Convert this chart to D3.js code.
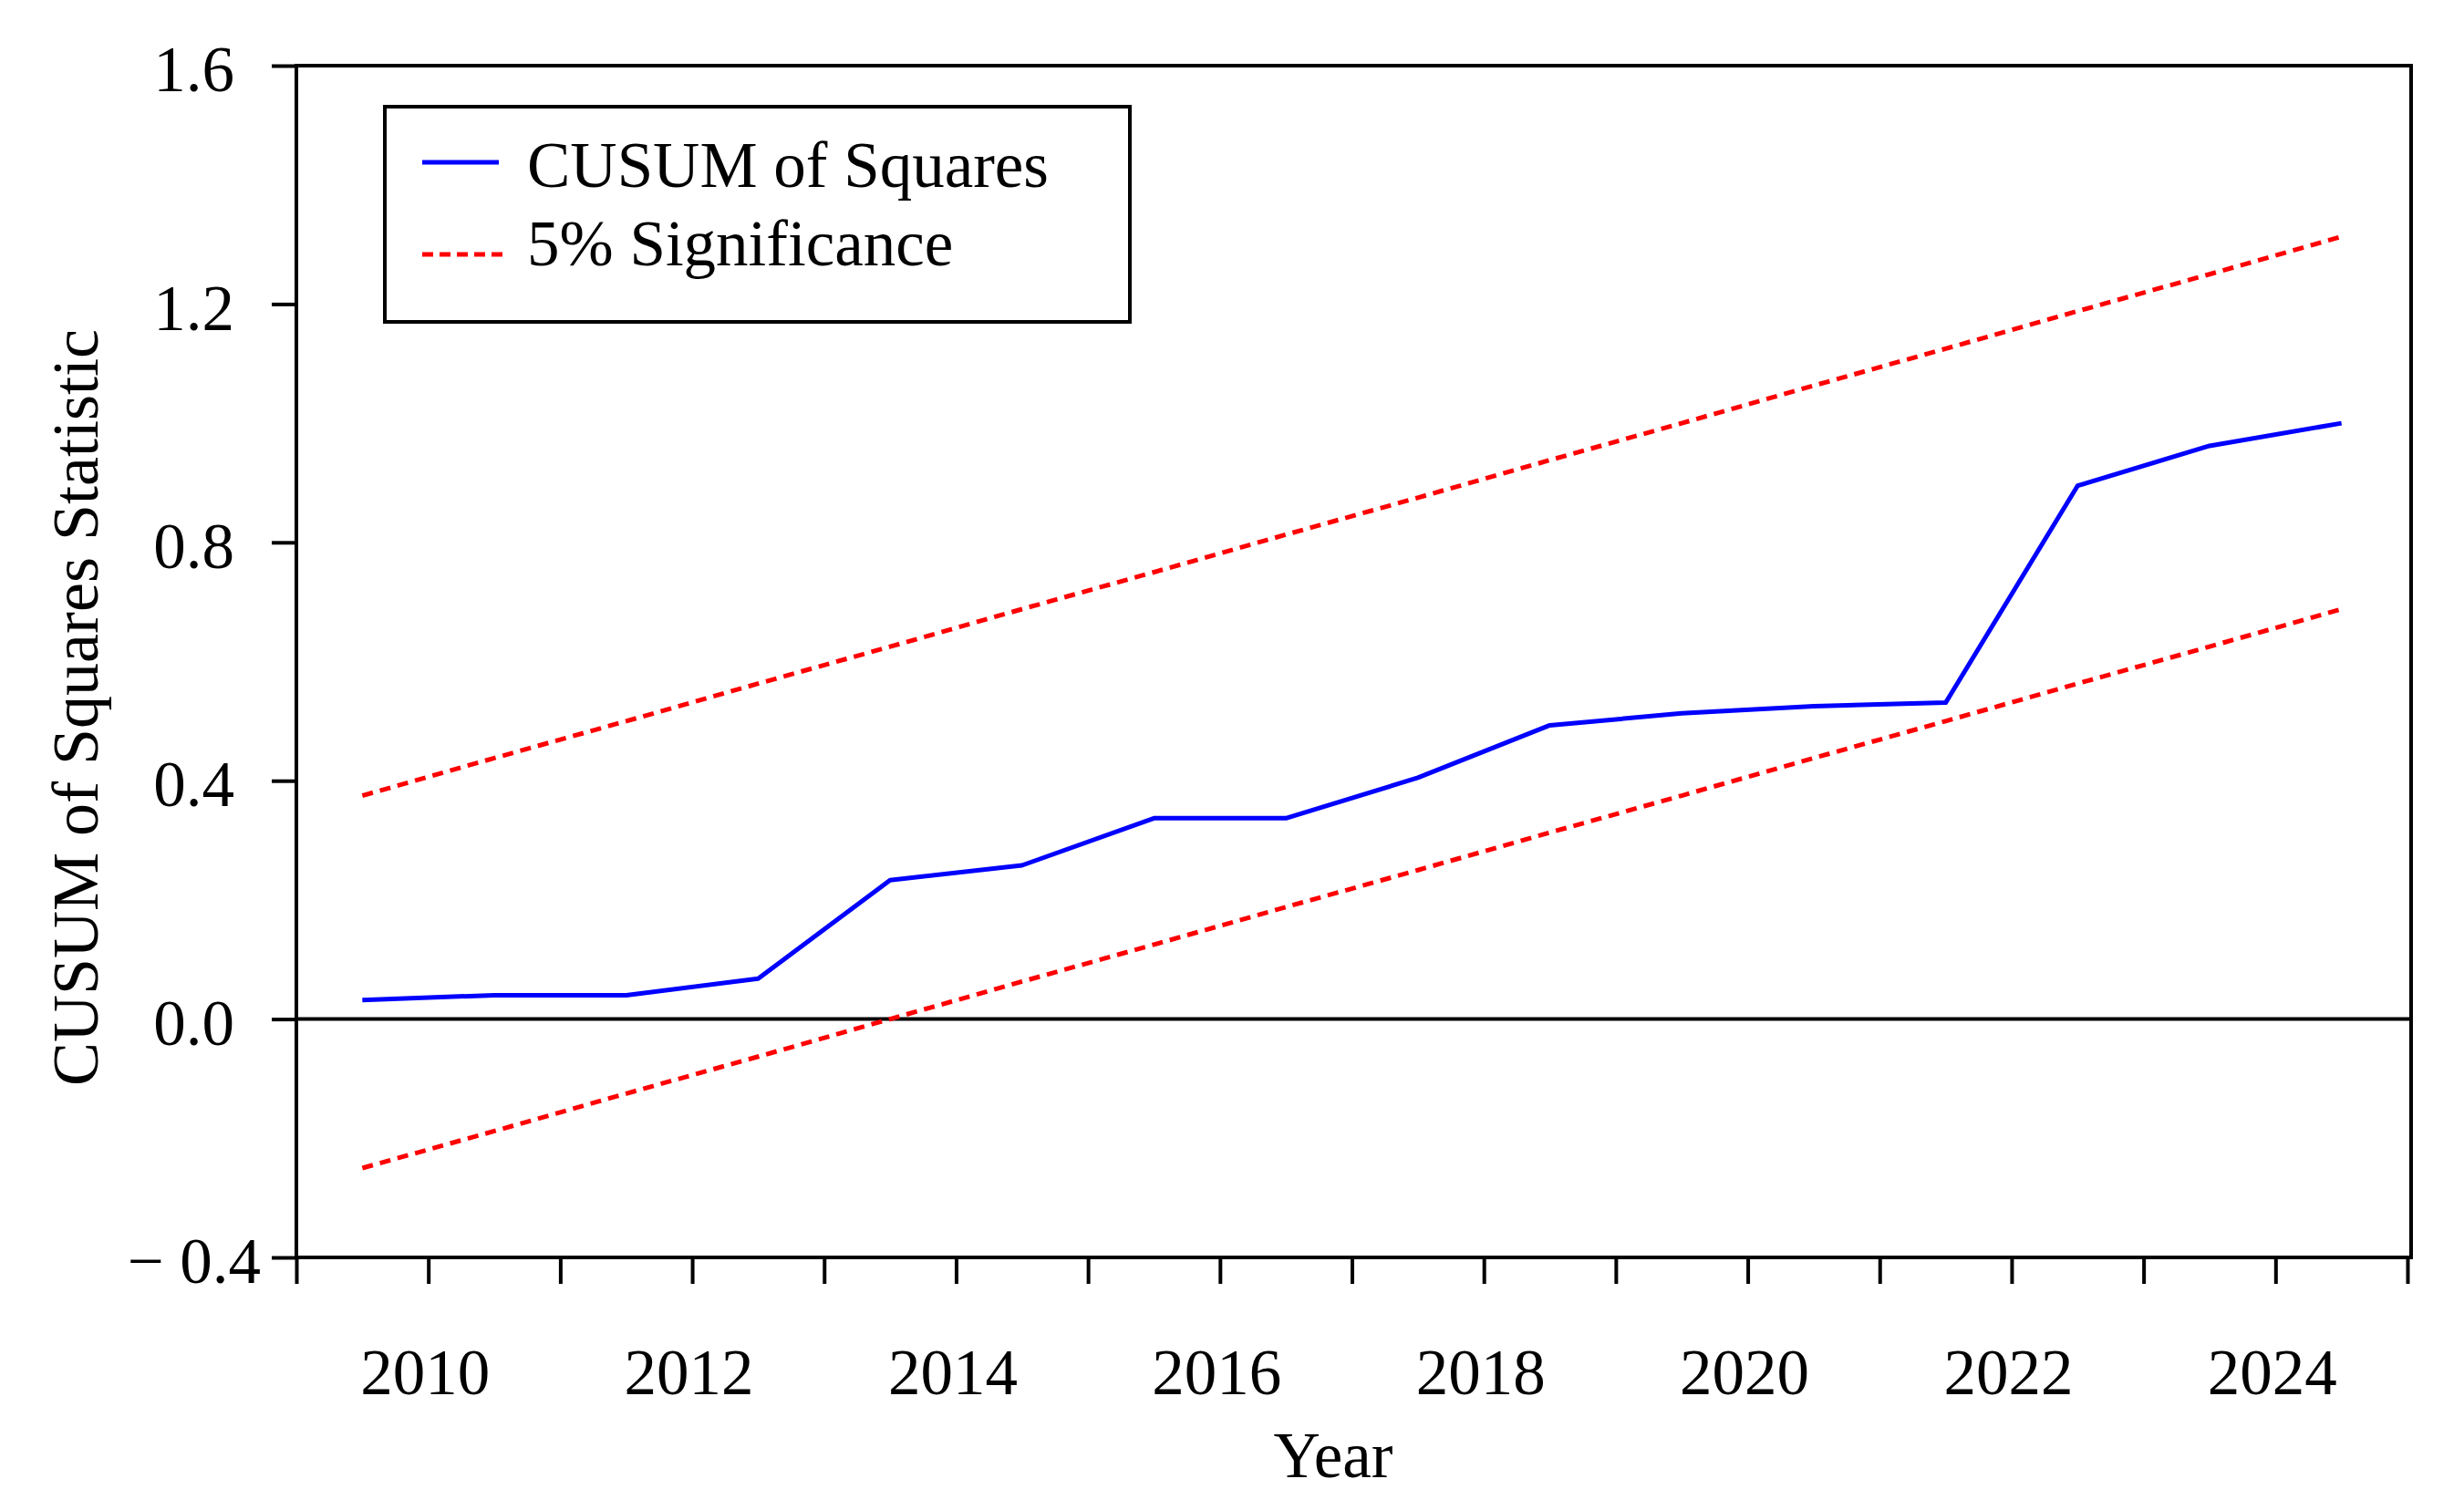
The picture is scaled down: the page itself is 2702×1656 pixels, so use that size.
<!DOCTYPE html>
<html>
<head>
<meta charset="utf-8">
<script src="https://cdn.jsdelivr.net/npm/d3@7"></script>
<style>
  body { margin: 0; background: #fff; }
  text { font-family: "Times New Roman", "Liberation Serif", serif; fill: #000; }
</style>
</head>
<body>
<div id="chart"></div>
<script>
/**
 * Data
 */
// observation years (plotted in the middle of each year)
var years = [2009, 2010, 2011, 2012, 2013, 2014, 2015, 2016, 2017, 2018, 2019, 2020, 2021, 2022, 2023, 2024];
// CUSUM of squares statistic
var cusumSq = [0.032, 0.040, 0.040, 0.068, 0.233, 0.258, 0.337, 0.337, 0.405, 0.493, 0.513, 0.525, 0.531, 0.895, 0.962, 1.000];
// 5% significance bounds
var upperBound = [0.375, 0.438, 0.500, 0.563, 0.625, 0.688, 0.750, 0.813, 0.875, 0.938, 1.000, 1.063, 1.125, 1.188, 1.250, 1.313];
var lowerBound = [-0.250, -0.188, -0.125, -0.063, 0.000, 0.063, 0.125, 0.188, 0.250, 0.313, 0.375, 0.438, 0.500, 0.563, 0.625, 0.688];
// axis ticks
var xTicks = [2009, 2010, 2011, 2012, 2013, 2014, 2015, 2016, 2017, 2018, 2019, 2020, 2021, 2022, 2023, 2024, 2025];
var xLabels = [2010, 2012, 2014, 2016, 2018, 2020, 2022, 2024];
var yTicks = [-0.4, 0.0, 0.4, 0.8, 1.2, 1.6];
// legend entries
var legendNames = ["CUSUM of Squares", "5% Significance"];

/**
 * Generate Chart
 */
var svgWidth = 2702;
var svgHeight = 1656;

var margin = { top: 72, right: 62, bottom: 277, left: 325 };
var chartWidth = svgWidth - margin.left - margin.right;
var chartHeight = svgHeight - margin.top - margin.bottom;

var svg = d3.select("#chart")
  .append("svg")
  .attr("width", svgWidth)
  .attr("height", svgHeight);

var chartGroup = svg.append("g")
  .attr("transform", `translate(${margin.left}, ${margin.top})`);

// scales
var xScale = d3.scaleLinear()
  .domain([2009, 2025])
  .range([0, chartWidth]);

var yScale = d3.scaleLinear()
  .domain([-0.4, 1.6])
  .range([chartHeight, 0]);

// label format, the negative label gets the spaced minus
function yFormat(d) {
  if (d < 0) return "\u2212 " + Math.abs(d).toFixed(1);
  return d.toFixed(1);
}

// x axis with a tick every year, label every second year
var xAxis = d3.axisBottom(xScale)
  .tickValues(xTicks)
  .tickSize(29)
  .tickSizeOuter(0)
  .tickFormat(d => xLabels.indexOf(d) !== -1 ? d : "");

var xAxisGroup = chartGroup.append("g")
  .attr("transform", `translate(0, ${chartHeight})`)
  .call(xAxis);
xAxisGroup.select(".domain").remove();
xAxisGroup.selectAll(".tick line").attr("stroke", "#000").attr("stroke-width", 4);
xAxisGroup.selectAll(".tick text")
  .attr("y", 150)
  .attr("dy", 0)
  .attr("dx", -4)
  .style("font-size", "71px");

// y axis
var yAxis = d3.axisLeft(yScale)
  .tickValues(yTicks)
  .tickSize(27)
  .tickSizeOuter(0)
  .tickFormat(yFormat);

var yAxisGroup = chartGroup.append("g")
  .call(yAxis);
yAxisGroup.select(".domain").remove();
yAxisGroup.selectAll(".tick line").attr("stroke", "#000").attr("stroke-width", 4);
yAxisGroup.selectAll(".tick text")
  .attr("x", d => d < 0 ? -39 : -68)
  .attr("dy", "0.39em")
  .style("font-size", "71px");

// frame round the plot
chartGroup.append("rect")
  .attr("x", 0)
  .attr("y", 0)
  .attr("width", chartWidth + 4)
  .attr("height", chartHeight)
  .attr("fill", "none")
  .attr("stroke", "#000")
  .attr("stroke-width", 4);

// zero line
chartGroup.append("line")
  .attr("x1", 0)
  .attr("x2", chartWidth + 4)
  .attr("y1", yScale(0))
  .attr("y2", yScale(0))
  .attr("stroke", "#000")
  .attr("stroke-width", 4);

// line generator, points sit in the middle of each year
function lineFor(values) {
  return d3.line()
    .x((d, i) => xScale(years[i] + 0.5))
    .y(d => yScale(d))(values);
}

// significance bounds
[upperBound, lowerBound].forEach(bound => {
  chartGroup.append("path")
    .attr("d", lineFor(bound))
    .attr("fill", "none")
    .attr("stroke", "#ff0000")
    .attr("stroke-width", 5)
    .attr("stroke-dasharray", "12,8");
});

// CUSUM of squares line
chartGroup.append("path")
  .attr("d", lineFor(cusumSq))
  .attr("fill", "none")
  .attr("stroke", "#0000ff")
  .attr("stroke-width", 5)
  .attr("stroke-linejoin", "round");

// axis titles
svg.append("text")
  .attr("x", 1462)
  .attr("y", 1620)
  .attr("text-anchor", "middle")
  .style("font-size", "71px")
  .text("Year");

svg.append("text")
  .attr("transform", "translate(107, 776) rotate(-90)")
  .attr("text-anchor", "middle")
  .style("font-size", "72px")
  .text("CUSUM of Squares Statistic");

/**
 * Legend
 */
var legend = svg.append("g");

legend.append("rect")
  .attr("x", 422)
  .attr("y", 117)
  .attr("width", 817)
  .attr("height", 236)
  .attr("fill", "#fff")
  .attr("stroke", "#000")
  .attr("stroke-width", 4);

// sample line row and text baseline for each entry
var legendStyles = [
  { color: "#0000ff", dash: null, x2: 547, lineY: 178, textY: 205 },
  { color: "#ff0000", dash: "12,7", x2: 557, lineY: 279, textY: 291 }
];

legendNames.forEach((name, ix) => {
  var st = legendStyles[ix];
  legend.append("line")
    .attr("x1", 463)
    .attr("x2", st.x2)
    .attr("y1", st.lineY)
    .attr("y2", st.lineY)
    .attr("stroke", st.color)
    .attr("stroke-width", 5)
    .attr("stroke-dasharray", st.dash);
  legend.append("text")
    .attr("x", 578)
    .attr("y", st.textY)
    .style("font-size", "71px")
    .text(name);
});
</script>
</body>
</html>
